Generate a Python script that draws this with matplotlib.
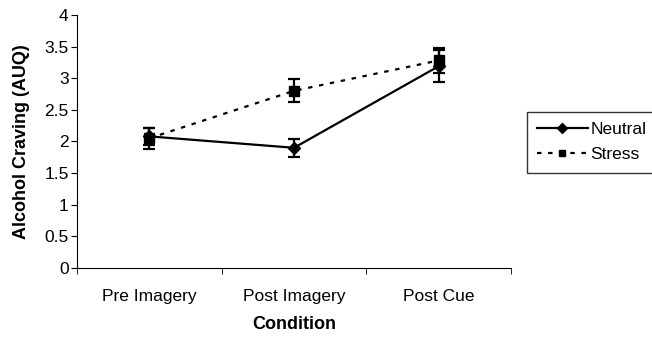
import numpy as np
import matplotlib.pyplot as plt

plt.rcParams['font.family'] = ['Liberation Sans', 'DejaVu Sans']

# data
conditions = ['Pre Imagery', 'Post Imagery', 'Post Cue']
neutral = [2.08, 1.90, 3.19]
neutral_err = [0.13, 0.14, 0.25]
stress = [2.05, 2.80, 3.28]
stress_err = [0.17, 0.18, 0.20]

fig = plt.figure(figsize=(6.52, 3.38), dpi=100)
ax = fig.add_axes([0.118, 0.207, 0.666, 0.749])

x = np.arange(len(conditions))
ax.errorbar(x, neutral, yerr=neutral_err, color='black', lw=1.6, marker='D',
            ms=6.5, capsize=4, capthick=1.6, elinewidth=1.6, label='Neutral')
ax.errorbar(x, stress, yerr=stress_err, color='black', lw=1.6, ls=(0, (2, 3)),
            marker='s', ms=6.5, capsize=4, capthick=1.6, elinewidth=1.6, label='Stress')

ax.set_xlim(-0.5, len(conditions) - 0.5)
ax.set_ylim(0, 4)
ax.set_yticks(np.arange(0, 4.01, 0.5))
ax.set_yticklabels(['0', '0.5', '1', '1.5', '2', '2.5', '3', '3.5', '4'])
ax.set_xticks(x)
ax.set_xticklabels(conditions)
ax.set_xticks(np.arange(-0.5, len(conditions), 1), minor=True)
ax.tick_params(axis='x', which='major', length=0, pad=15, labelsize=12.5)
ax.tick_params(axis='x', which='minor', length=4, direction='out')
ax.tick_params(axis='y', length=4, direction='out', labelsize=12.5, pad=2)

for s in ['top', 'right']:
    ax.spines[s].set_visible(False)

ax.set_xlabel('Condition', fontsize=13, fontweight='bold', labelpad=9)
ax.set_ylabel('Alcohol Craving (AUQ)', fontsize=13, fontweight='bold', labelpad=10)

handles, labels = ax.get_legend_handles_labels()
handles = [h[0] for h in handles]
leg = fig.legend(handles, labels, loc='upper left', bbox_to_anchor=(0.808, 0.669),
                 frameon=True, fancybox=False, edgecolor='black', fontsize=12.5,
                 handlelength=2.9, borderpad=0.6, labelspacing=0.55, markerscale=0.75,
                 handletextpad=0.15, borderaxespad=0)
leg.get_frame().set_linewidth(1.0)

fig.savefig('out.png', dpi=100)
